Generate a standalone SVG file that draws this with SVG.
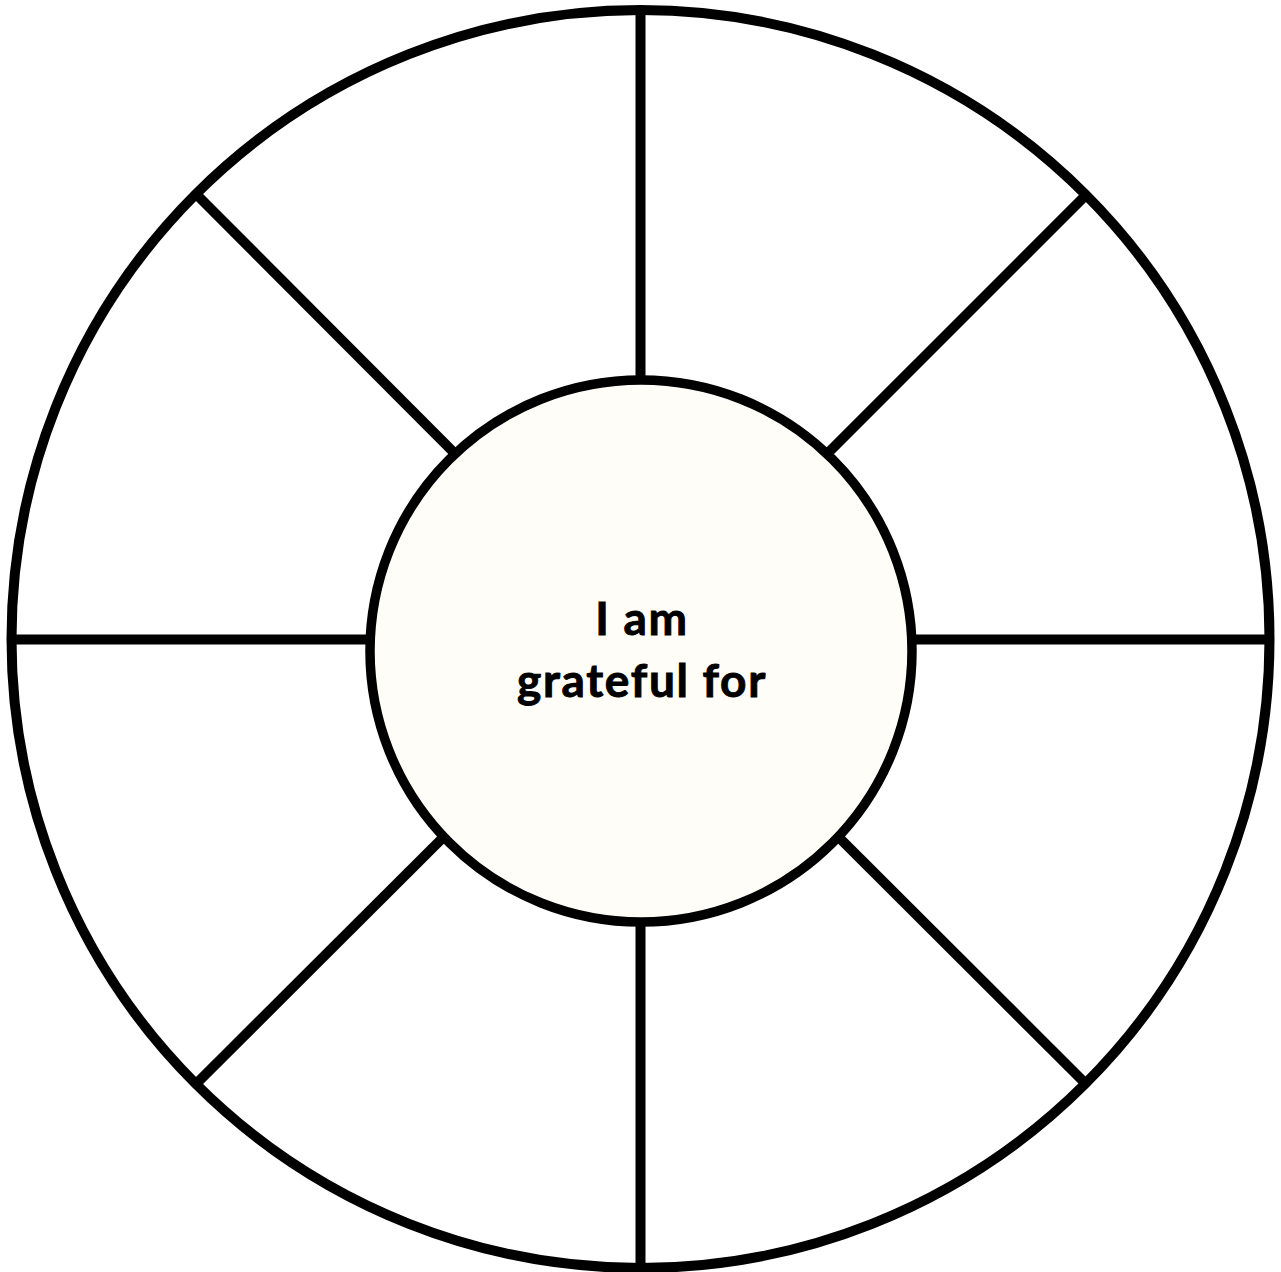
<svg xmlns="http://www.w3.org/2000/svg" width="1281" height="1272" viewBox="0 0 1281 1272">
<style>
.ln{stroke:#000;stroke-width:10;fill:none}
.lbl{font-family:Lato,"Open Sans",sans-serif;font-weight:700;font-size:46px;letter-spacing:1.7px;fill:#000;stroke:#000;stroke-width:0.9px;text-anchor:middle}
</style>
<rect width="1281" height="1272" fill="#fff"/>
<g id="outer">
<circle cx="640.5" cy="639" r="629" class="ln"/>
</g>
<g id="connectors">
<line class="ln" x1="640.5" y1="12" x2="640.5" y2="640"/>
<line class="ln" x1="640.5" y1="640" x2="640.5" y2="1266"/>
<line class="ln" x1="13" y1="639.5" x2="640" y2="639.5"/>
<line class="ln" x1="640" y1="639.5" x2="1267" y2="639.5"/>
<line class="ln" x1="196" y1="194" x2="641" y2="640"/>
<line class="ln" x1="1085" y1="196" x2="641" y2="640"/>
<line class="ln" x1="197" y1="1083" x2="641" y2="640"/>
<line class="ln" x1="1085" y1="1083" x2="641" y2="640"/>
</g>
<g id="center">
<circle cx="641" cy="651" r="271" fill="#fffdf7" stroke="#000" stroke-width="9.5"/>
<text class="lbl" x="642" y="635">I am</text>
<text class="lbl" x="642" y="697">grateful for</text>
</g>
</svg>
